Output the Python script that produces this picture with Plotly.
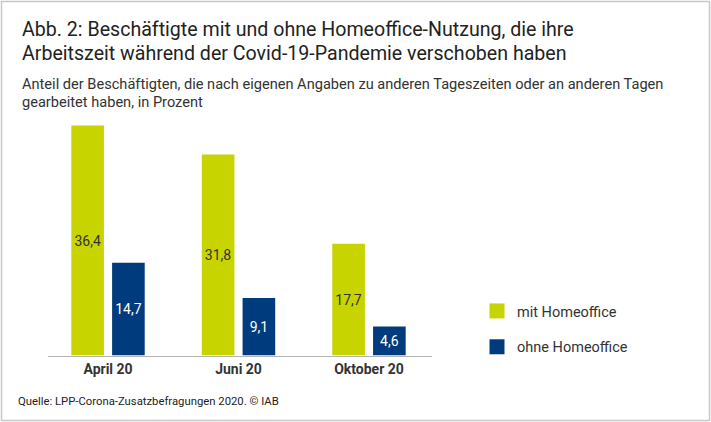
import plotly.graph_objects as go

categories = ["April 20", "Juni 20", "Oktober 20"]
mit_homeoffice = [36.4, 31.8, 17.7]
ohne_homeoffice = [14.7, 9.1, 4.6]
series_names = ["mit Homeoffice", "ohne Homeoffice"]

title_lines = ["Abb. 2: Beschäftigte mit und ohne Homeoffice-Nutzung, die ihre",
               "Arbeitszeit während der Covid-19-Pandemie verschoben haben"]
subtitle_lines = ["Anteil der Beschäftigten, die nach eigenen Angaben zu anderen Tageszeiten oder an anderen Tagen",
                  "gearbeitet haben, in Prozent"]
source_text = "Quelle: LPP-Corona-Zusatzbefragungen 2020. © IAB"

W, H = 711, 422
FONT = "Roboto, sans-serif"
GREEN = "#c8d400"
BLUE = "#003c7d"

def fmt(v):
    return f"{v:.1f}".replace(".", ",")

def px_x(p):
    return p / W

def px_y(p):
    return 1 - p / H

fig = go.Figure()
fig.add_trace(go.Bar(
    x=categories, y=mit_homeoffice, name=series_names[0], showlegend=False,
    marker=dict(color=GREEN, line=dict(width=0)),
    text=[fmt(v) for v in mit_homeoffice], textposition="inside",
    insidetextanchor="middle", textangle=0,
    textfont=dict(color="#333333", size=14, family=FONT),
    hoverinfo="x+y",
))
fig.add_trace(go.Bar(
    x=categories, y=ohne_homeoffice, name=series_names[1], showlegend=False,
    marker=dict(color=BLUE, line=dict(width=0)),
    text=[fmt(v) for v in ohne_homeoffice], textposition="inside",
    insidetextanchor="middle", textangle=0,
    textfont=dict(color="white", size=14, family=FONT),
    hoverinfo="x+y",
))
# legend entries (square swatches)
for name, col, grp in [(series_names[0], GREEN, "a"), (series_names[1], BLUE, "b")]:
    fig.add_trace(go.Scatter(
        x=[None], y=[None], mode="markers", name=name, legendgroup=grp,
        marker=dict(symbol="square", size=15, color=col, line=dict(width=0)),
    ))

annotations = []
for txt, yc in zip(title_lines, [30, 54]):
    annotations.append(dict(text=txt, x=px_x(20), y=px_y(yc), xanchor="left", yanchor="middle",
                            showarrow=False, xref="paper", yref="paper",
                            font=dict(size=19.6, color="#222222", family=FONT)))
for txt, yc in zip(subtitle_lines, [83.5, 102]):
    annotations.append(dict(text=txt, x=px_x(20), y=px_y(yc), xanchor="left", yanchor="middle",
                            showarrow=False, xref="paper", yref="paper",
                            font=dict(size=14.6, color="#333333", family=FONT)))
annotations.append(dict(text=source_text, x=px_x(16), y=px_y(401), xanchor="left", yanchor="middle",
                        showarrow=False, xref="paper", yref="paper",
                        font=dict(size=11.3, color="#222222", family=FONT)))

fig.update_layout(
    width=W, height=H,
    margin=dict(l=0, r=0, t=0, b=0, autoexpand=False),
    paper_bgcolor="white", plot_bgcolor="white",
    barmode="group", bargap=0.375, bargroupgap=0.2,
    font=dict(family=FONT, color="#333333"),
    xaxis=dict(domain=[px_x(48), px_x(432)], range=[-0.46, 2.483],
               showline=True, linecolor="#b4b4b4", linewidth=1,
               ticks="", showgrid=False, zeroline=False,
               tickvals=categories, ticktext=[f"<b>{c}</b>" for c in categories],
               tickfont=dict(size=14, color="#333333", family=FONT),
               ticklabelstandoff=1, fixedrange=True, automargin=False),
    yaxis=dict(domain=[px_y(355.5), px_y(102.8)], range=[0, 40],
               visible=False, showgrid=False, zeroline=False, fixedrange=True),
    showlegend=True,
    legend=dict(x=px_x(477), y=px_y(295), xanchor="left", yanchor="top",
                font=dict(size=14.5, color="#333333", family=FONT),
                tracegroupgap=14, traceorder="grouped", bgcolor="rgba(0,0,0,0)",
                borderwidth=0),
    annotations=annotations,
    shapes=[dict(type="rect", xref="paper", yref="paper", x0=px_x(1.5), x1=px_x(709.5),
                 y0=px_y(420.5), y1=px_y(1.5), line=dict(color="#c8c8c8", width=1.5))],
)

fig.write_html("out.html", config={"displayModeBar": False},
               post_script="document.body.style.margin='0';document.body.style.padding='0';")
